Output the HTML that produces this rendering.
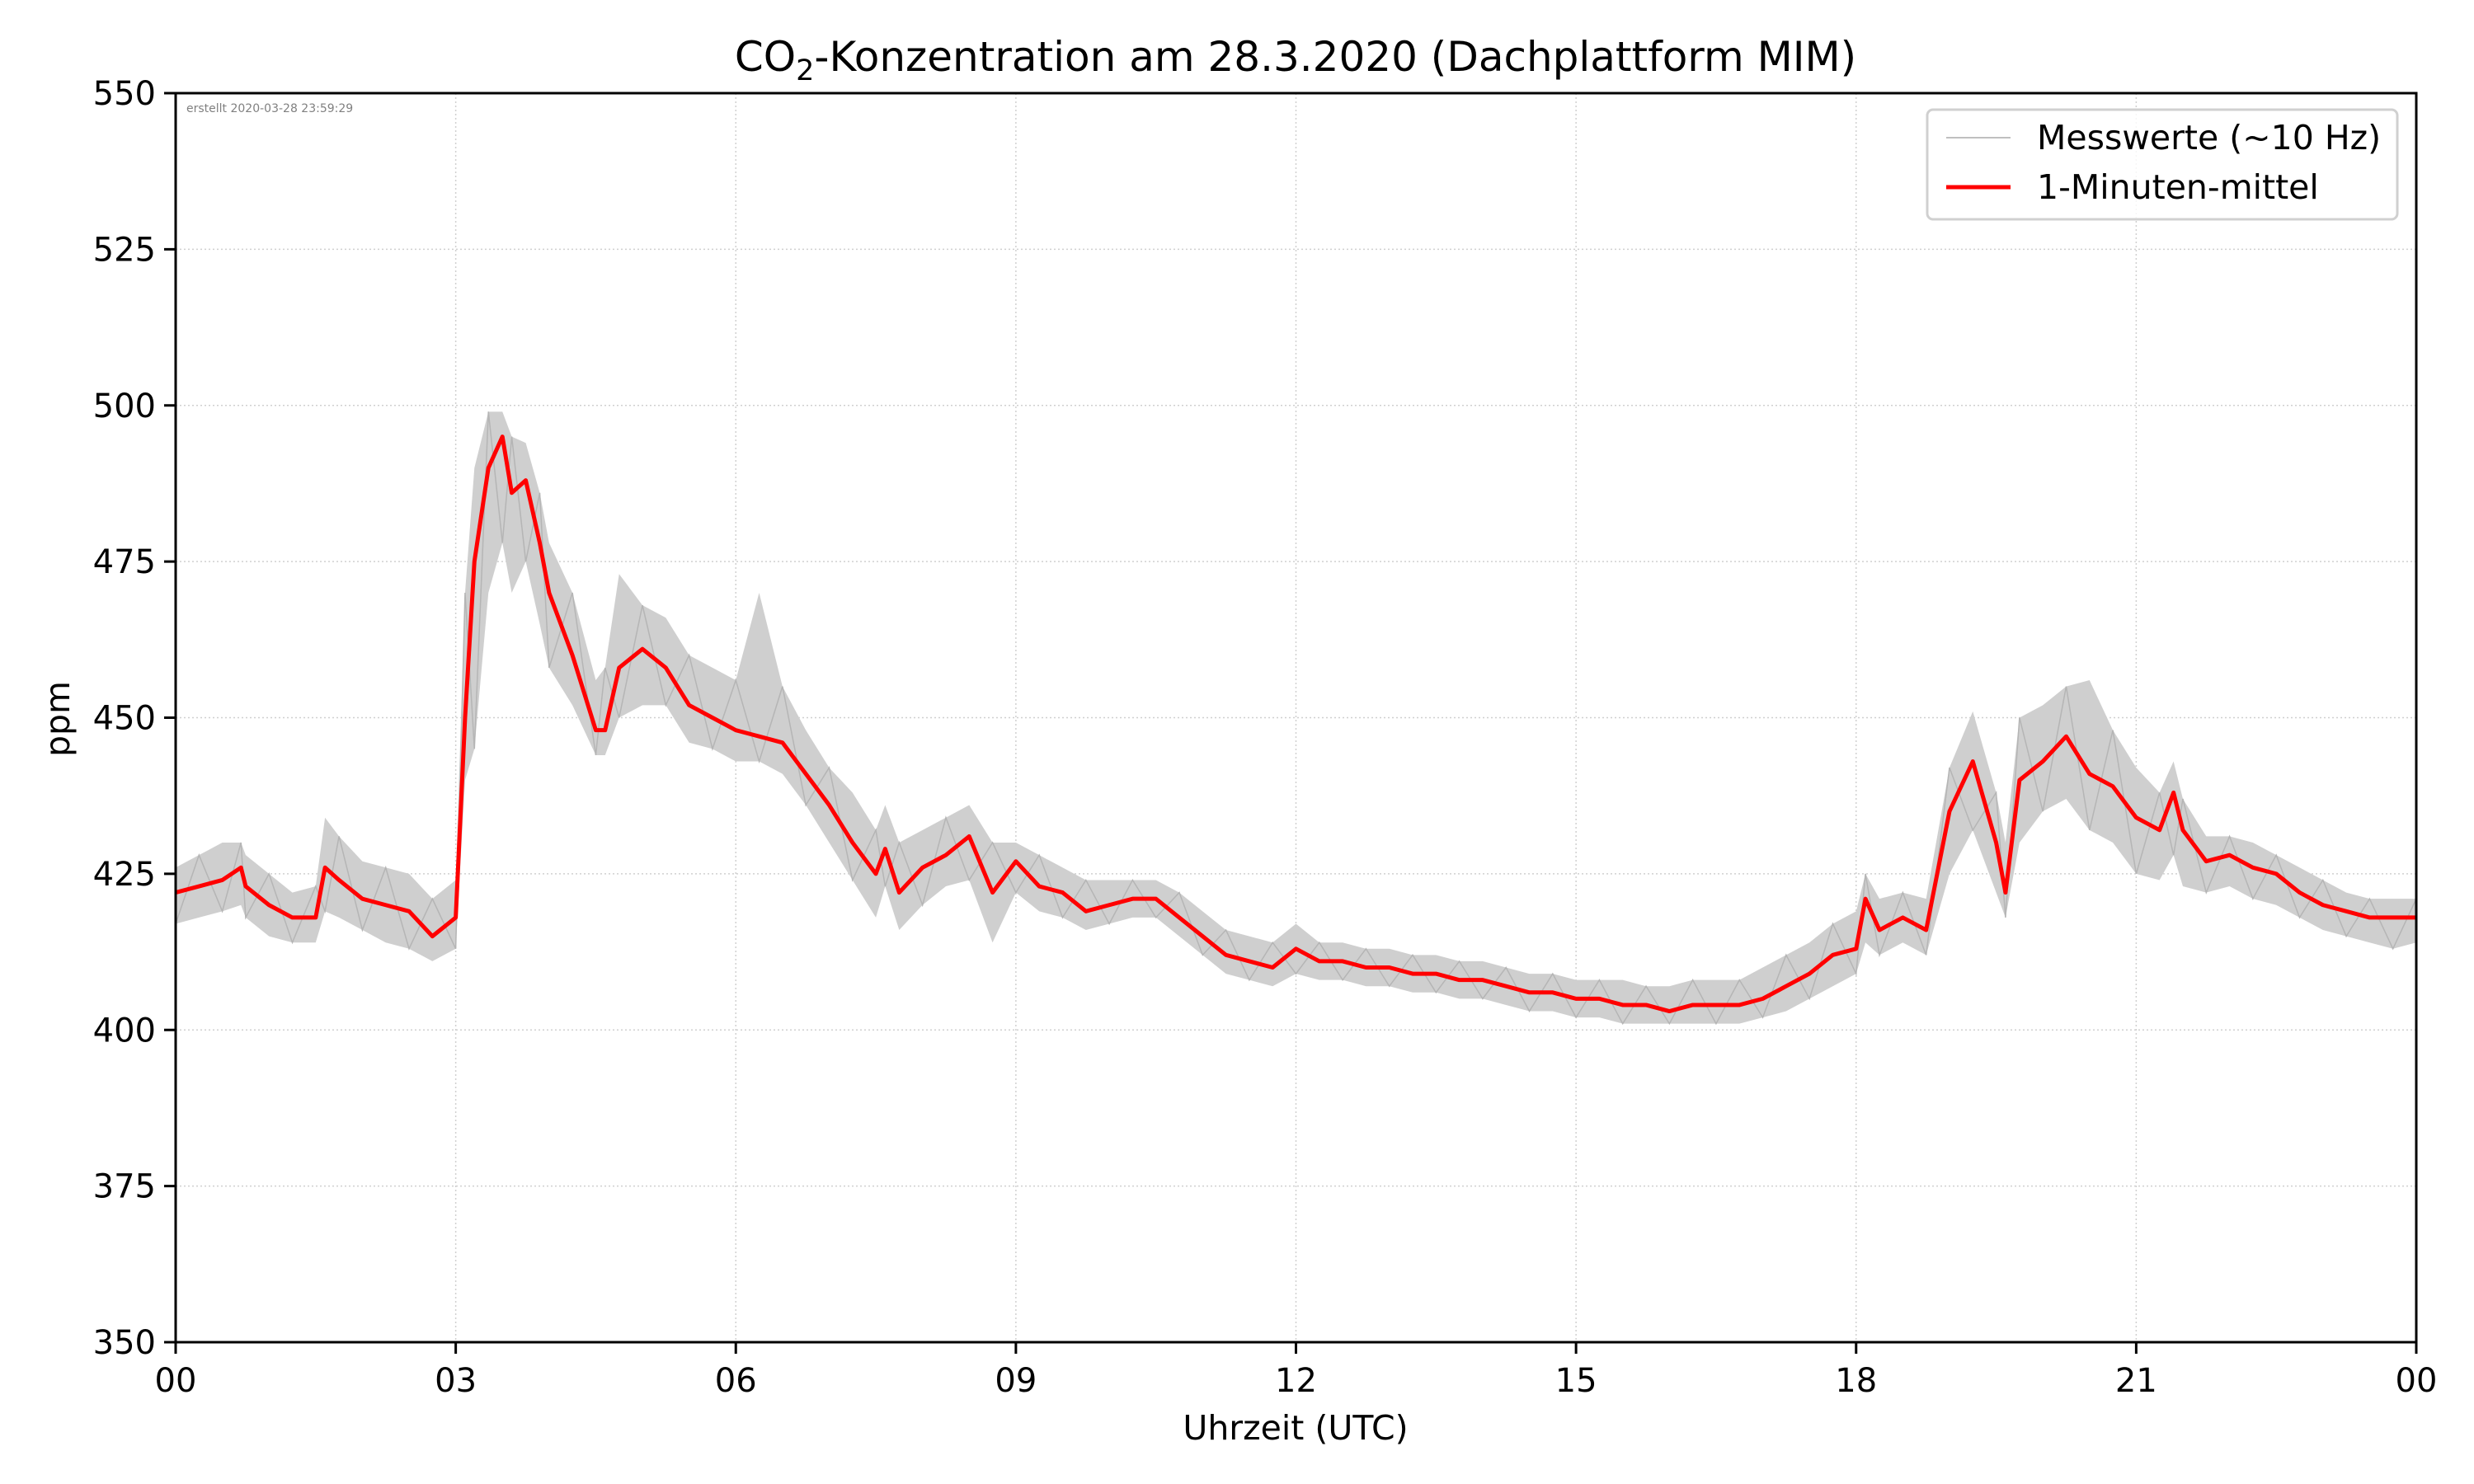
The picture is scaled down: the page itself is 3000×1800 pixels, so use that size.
<!DOCTYPE html>
<html><head><meta charset="utf-8"><style>
body{margin:0;background:#fff}
svg{display:block;font-family:"DejaVu Sans","Liberation Sans",sans-serif}
</style></head><body>
<svg id="c" width="3000" height="1800" viewBox="0 0 3000 1800">
<text x="1571" y="86" font-size="50" text-anchor="middle">CO<tspan font-size="35" dy="11">2</tspan><tspan dy="-11">-Konzentration am 28.3.2020 (Dachplattform MIM)</tspan></text>
<text x="1571" y="1746" font-size="41" text-anchor="middle">Uhrzeit (UTC)</text>
<text transform="translate(84,872) rotate(-90)" font-size="41" text-anchor="middle">ppm</text>
<g id="grid"></g><g id="ser"></g><g id="ax"></g>
<text x="226" y="136" font-size="14" fill="#808080">erstellt 2020-03-28 23:59:29</text>
<g>
<rect x="2337" y="133" width="570" height="133" rx="7" fill="#fff" fill-opacity="0.8" stroke="#d0d0d0" stroke-width="3"/>
<line x1="2360" y1="167" x2="2438" y2="167" stroke="#bfbfbf" stroke-width="2"/>
<text x="2470" y="181" font-size="41">Messwerte (~10 Hz)</text>
<line x1="2360" y1="227" x2="2438" y2="227" stroke="#ff0000" stroke-width="5"/>
<text x="2470" y="241" font-size="41">1-Minuten-mittel</text>
</g>
</svg>
<script>
const hours=[0,0.25,0.5,0.7,0.75,1,1.25,1.5,1.6,1.75,2,2.25,2.5,2.75,3,3.1,3.2,3.35,3.5,3.6,3.75,3.9,4,4.25,4.5,4.6,4.75,5,5.25,5.5,5.75,6,6.25,6.5,6.75,7,7.25,7.5,7.6,7.75,8,8.25,8.5,8.75,9,9.25,9.5,9.75,10,10.25,10.5,10.75,11,11.25,11.5,11.75,12,12.25,12.5,12.75,13,13.25,13.5,13.75,14,14.25,14.5,14.75,15,15.25,15.5,15.75,16,16.25,16.5,16.75,17,17.25,17.5,17.75,18,18.1,18.25,18.5,18.75,19,19.25,19.5,19.6,19.75,20,20.25,20.5,20.75,21,21.25,21.4,21.5,21.75,22,22.25,22.5,22.75,23,23.25,23.5,23.75,24];
const meanPpm=[422,423,424,426,423,420,418,418,426,424,421,420,419,415,418,450,475,490,495,486,488,478,470,460,448,448,458,461,458,452,450,448,447,446,441,436,430,425,429,422,426,428,431,422,427,423,422,419,420,421,421,418,415,412,411,410,413,411,411,410,410,409,409,408,408,407,406,406,405,405,404,404,403,404,404,404,405,407,409,412,413,421,416,418,416,435,443,430,422,440,443,447,441,439,434,432,438,432,427,428,426,425,422,420,419,418,418,418];
const rawHi=[426,428,430,430,428,425,422,423,434,431,427,426,425,421,424,470,490,499,499,495,494,486,478,470,456,458,473,468,466,460,458,456,470,455,448,442,438,432,436,430,432,434,436,430,430,428,426,424,424,424,424,422,419,416,415,414,417,414,414,413,413,412,412,411,411,410,409,409,408,408,408,407,407,408,408,408,410,412,414,417,419,425,421,422,421,442,451,438,430,450,452,455,456,448,442,438,443,437,431,431,430,428,426,424,422,421,421,421];
const rawLo=[417,418,419,420,418,415,414,414,419,418,416,414,413,411,413,440,445,470,478,470,475,465,458,452,444,444,450,452,452,446,445,443,443,441,436,430,424,418,423,416,420,423,424,414,422,419,418,416,417,418,418,415,412,409,408,407,409,408,408,407,407,406,406,405,405,404,403,403,402,402,401,401,401,401,401,401,402,403,405,407,409,414,412,414,412,425,432,422,418,430,435,437,432,430,425,424,428,423,422,423,421,420,418,416,415,414,413,414];
const yTicks=[350,375,400,425,450,475,500,525,550];
const xTicks=[0,3,6,9,12,15,18,21,24];
const xLabels=["00","03","06","09","12","15","18","21","00"];
const L=213,R=2930,T=113,B=1628;
const xs=h=>L+(R-L)*h/24, ys=v=>B-(B-T)*(v-350)/200;
const NS="http://www.w3.org/2000/svg";
function mk(tag,attrs,parent){const e=document.createElementNS(NS,tag);for(const k in attrs)e.setAttribute(k,attrs[k]);parent.appendChild(e);return e;}
const grid=document.getElementById('grid'),ax=document.getElementById('ax'),ser=document.getElementById('ser');
yTicks.forEach(v=>{
 const g=mk('line',{x1:L,x2:R,y1:ys(v),y2:ys(v),stroke:'#d0d0d0','stroke-width':1.5,'stroke-dasharray':'2,3'},grid);
 
 
 const t=mk('line',{x1:L-14,x2:L,y1:ys(v),y2:ys(v),stroke:'#000','stroke-width':3},ax);
 
 
 const l=mk('text',{x:L-24,y:ys(v)+14,'font-size':40,'text-anchor':'end'},ax);
 l.textContent=v;
 
 
});
xTicks.forEach((h,i)=>{
 const g=mk('line',{x1:xs(h),x2:xs(h),y1:T,y2:B,stroke:'#d0d0d0','stroke-width':1.5,'stroke-dasharray':'2,3'},grid);
 
 
 const t=mk('line',{x1:xs(h),x2:xs(h),y1:B,y2:B+14,stroke:'#000','stroke-width':3},ax);
 
 
 const l=mk('text',{x:xs(h),y:B+60,'font-size':40,'text-anchor':'middle'},ax);
 l.textContent=xLabels[i];
 
 
});
const frame=mk('rect',{x:L,y:T,width:R-L,height:B-T,fill:'none',stroke:'#000','stroke-width':3},ax);


let up=hours.map((h,i)=>xs(h)+','+ys(rawHi[i])), dn=hours.map((h,i)=>xs(h)+','+ys(rawLo[i])).reverse();
const band=mk('polygon',{points:up.concat(dn).join(' '),fill:'#cfcfcf',stroke:'none'},ser);


const zz=hours.map((h,i)=>xs(h)+','+ys(i%2?rawHi[i]:rawLo[i])).join(' ');
const zl=mk('polyline',{points:zz,fill:'none',stroke:'#b5b5b5','stroke-width':1.5},ser);


const m=mk('polyline',{points:hours.map((h,i)=>xs(h)+','+ys(meanPpm[i])).join(' '),fill:'none',stroke:'#ff0000','stroke-width':5,'stroke-linejoin':'round'},ser);


</script>
</body></html>
